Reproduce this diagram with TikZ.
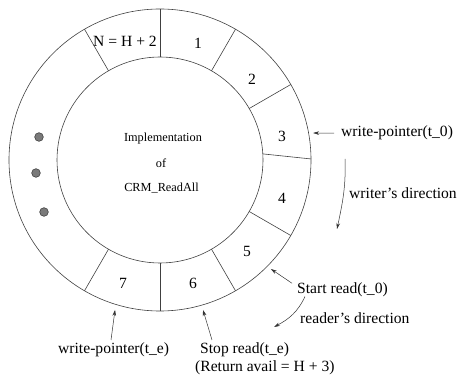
\documentclass[tikz,border=0pt]{standalone}
\usepackage{fontspec}
\setmainfont{Liberation Serif}
\usetikzlibrary{arrows.meta,calc}
\begin{document}
\begin{tikzpicture}[x=1pt,y=1pt,
  ring/.style={draw=black!75,line width=0.6pt},
  lbl/.style={inner sep=0pt,font=\fontsize{15.6}{18}\selectfont},
  cell/.style={lbl,anchor=base},
  note/.style={lbl,anchor=base west},
  small/.style={inner sep=0pt,anchor=base,font=\fontsize{12.3}{14}\selectfont},
  ptr/.style={draw=black!80,line width=0.5pt,-{Stealth[length=6pt,width=3.6pt]}},
  dot/.style={circle,draw=black!75,fill=black!52,line width=0.6pt,minimum size=8.6pt,inner sep=0pt}]
\useasboundingbox (0,0) rectangle (460,375);
\coordinate (c) at (160,215);
% ring
\draw[ring] (c) circle[radius=151];
\draw[ring] (c) circle[radius=103];
\foreach \a in {90,60,30,-30,-60,-90,-120,120}
  \draw[ring] ($(c)+(\a:103)$) -- ($(c)+(\a:151)$);
\draw[ring] ($(c)+(3.4:103)$) -- ($(c)+(0.4:151)$);
% cell labels
\node[cell] (n)  at (125,328) {N = H + 2};
\node[cell] (s1) at (198,326) {1};
\node[cell] (s2) at (252,290.5) {2};
\node[cell] (s3) at (282,233) {3};
\node[cell] (s4) at (282,171) {4};
\node[cell] (s5) at (247,119) {5};
\node[cell] (s6) at (193,87) {6};
\node[cell] (s7) at (123,87) {7};
% dots
\node[dot] (d1) at (39,238) {};
\node[dot] (d2) at (36,202) {};
\node[dot] (d3) at (44,163) {};
% centre text
\node[small] (t1) at (163,233.5) {Implementation};
\node[small] (t2) at (161,207) {of};
\node[small] (t3) at (161.5,183.5) {CRM\_ReadAll};
% notes
\node[note] (wp0) at (341,238) {write-pointer(t\_0)};
\node[note] (wd)  at (349,176) {writer's direction};
\node[note] (sr)  at (297,82)  {Start read(t\_0)};
\node[note] (rd)  at (300,52)  {reader's direction};
\node[note] (st)  at (200,22)  {Stop read(t\_e)};
\node[note] (ra)  at (195,4)   {(Return avail = H + 3)};
\node[note] (wpe) at (58,22)   {write-pointer(t\_e)};
% arrow targets
\coordinate (wp0tip) at ($(c)+(10:155.5)$);
\coordinate (srtip)  at ($(c)+(-44.5:155.5)$);
\coordinate (sttip)  at ($(c)+(-74:156)$);
\coordinate (wpetip) at ($(c)+(-106.7:156.5)$);
\coordinate (wdtail) at (345,216);
\coordinate (wdtip)  at (337,146);
\coordinate (rdtip)  at (274,48);
% arrows
\draw[ptr] ([xshift=-7pt]wp0.west) -- (wp0tip);
\draw[ptr] (wdtail) to[out=-88,in=78] (wdtip);
\draw[ptr] ([xshift=-5pt,yshift=6pt]sr.west) -- (srtip);
\draw[ptr] ([xshift=8pt]sr.south west) to[out=-115,in=28] (rdtip);
\draw[ptr] ([xshift=12pt,yshift=2pt]st.north west) -- (sttip);
\draw[ptr] ([xshift=53pt,yshift=2pt]wpe.north west) -- (wpetip);
\end{tikzpicture}
\end{document}
